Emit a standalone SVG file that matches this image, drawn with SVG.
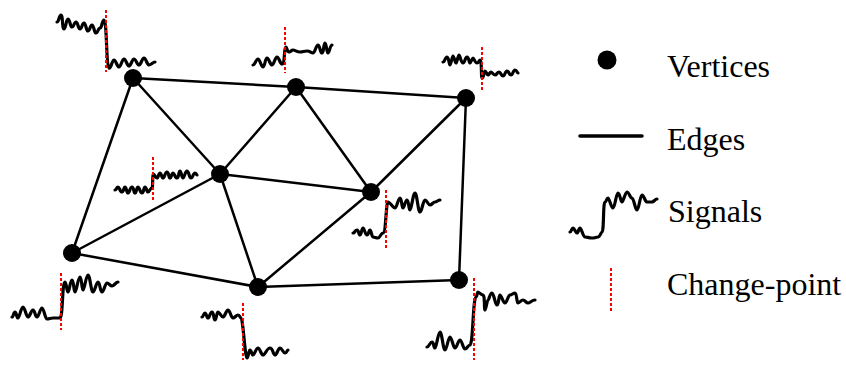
<svg xmlns="http://www.w3.org/2000/svg" width="846" height="365" viewBox="0 0 846 365">
<style>
.edge{stroke:#000;stroke-width:2.5;fill:none;stroke-linecap:round}
.v{fill:#000}
.sig{stroke:#000;stroke-width:3.2;fill:none;stroke-linecap:round;stroke-linejoin:round}
.cp{stroke:#ff0000;stroke-width:2;stroke-dasharray:3 2;fill:none}
.lbl{font-family:"Liberation Serif","Times New Roman",serif;font-size:32px;fill:#000}
</style>
<rect width="846" height="365" fill="#fff"/>
<g id="edges">
<line class="edge" x1="133" y1="78" x2="296" y2="87"/>
<line class="edge" x1="296" y1="87" x2="466" y2="98"/>
<line class="edge" x1="133" y1="78" x2="220" y2="174"/>
<line class="edge" x1="296" y1="87" x2="220" y2="174"/>
<line class="edge" x1="296" y1="87" x2="371" y2="192"/>
<line class="edge" x1="466" y1="98" x2="371" y2="192"/>
<line class="edge" x1="466" y1="98" x2="459" y2="280"/>
<line class="edge" x1="220" y1="174" x2="371" y2="192"/>
<line class="edge" x1="133" y1="78" x2="72" y2="253"/>
<line class="edge" x1="72" y1="253" x2="220" y2="174"/>
<line class="edge" x1="220" y1="174" x2="258" y2="287"/>
<line class="edge" x1="72" y1="253" x2="258" y2="287"/>
<line class="edge" x1="258" y1="287" x2="371" y2="192"/>
<line class="edge" x1="258" y1="287" x2="459" y2="280"/>
</g>
<g id="node-a">
<circle class="v" cx="133" cy="78" r="9"/>
<path class="sig" d="M57,22 C59,22 59,15 61,15 S62,29 64,29 S66,19 68,19 S70,27 72,27 S74,22 76,22 S78,29 80,29 S82,23 84,23 S86,31 88,31 S90,25 92,25 S94,33 96,33 S98,28 100,28 S102,20 104,20 C107,20 106,66 109,68 C111,69 112,60 114,60 S117,67 119,67 S122,59 124,59 S127,66 129,66 S132,59 134,59 S137,65 139,65 S142,58 144,58 S147,65 149,65 S153,62 155,62"/>
<line class="cp" x1="106" y1="10" x2="106" y2="72"/>
</g>
<g id="node-b">
<circle class="v" cx="296" cy="87" r="9"/>
<path class="sig" d="M253,65 C255,65 256,59 258,59 S261,67 263,67 S265,58 267,58 S270,65 272,65 S275,57 277,57 S280,64 282,64 C285,64 284,47 286,47 C287,47 287,52 289,52 S291,50 293,50 S297,52 300,52 S304,51 307,51 S311,53 313,53 S316,45 318,45 S320,53 322,53 S323.5,43 325,43 S326.5,53 328,53 S330,45 332,45"/>
<line class="cp" x1="285" y1="27" x2="285" y2="73"/>
</g>
<g id="node-c">
<circle class="v" cx="466" cy="98" r="9"/>
<path class="sig" d="M443,62 C445,62 445,57 447,57 S449,65 450,65 S452,56 453,56 S455,63 456,63 S458,55 459,55 S461,63 463,63 S465,57 467,57 S469,63 470,63 S472,58 473,58 S475,63 477,63 S479,60 480,60 C482,60 481,78 482,78 C484,78 484,71 485,71 S487,75 488,75 S490,72 491,72 S493,75 495,75 S497,72 499,72 S501,76 503,76 S505,71 507,71 S509,75 511,75 S513,70 515,70 S517,73 518,73"/>
<line class="cp" x1="482" y1="47" x2="482" y2="90"/>
</g>
<g id="node-d">
<circle class="v" cx="220" cy="174" r="9"/>
<path class="sig" d="M115,190 C116.5,190 116.5,187 118,187 S120,192 122,192 S123.5,187 125,187 S126.5,193 128,193 S130,187 132,187 S133.5,193 135,193 S136.5,187 138,187 S140,193 142,193 S143.5,187 145,187 S146.5,192 148,192 S150,188 152,188 C153,188 152.5,174 153,174 C155,174 155.5,178 157,178 S158.5,173 160,173 S161.5,178 163,178 S165,172 167,172 S168.5,178 170,178 S171.5,173 173,173 S175,178 177,178 S178.5,171 180,171 S181.5,178 183,178 S185,171 187,171 S189,178 191,178 S193,173 195,173 S196,175 197,175"/>
<line class="cp" x1="153" y1="157" x2="153" y2="202"/>
</g>
<g id="node-e">
<circle class="v" cx="371" cy="192" r="9"/>
<path class="sig" d="M353,233 C355,233 355,230 357,230 S358.5,235 360,235 S361.5,228 363,228 S365,235 367,235 S368.5,230 370,230 S371.5,237 373,237 S376,238 378,238 S381,233 383,233 C386,233 386,202 388,202 C390,202 393,208 395,208 S398,198 400,198 S401.5,208 403,208 S405,200 407,200 S408.5,210 410,210 S413,193 415,193 S418,212 420,212 S423,200 425,200 S428,205 430,205 S433,202 435,202 S438,200 440,200"/>
<line class="cp" x1="386" y1="190" x2="386" y2="250"/>
</g>
<g id="node-f">
<circle class="v" cx="72" cy="253" r="9"/>
<path class="sig" d="M12,317 C13.5,317 13.5,312 15,312 S16.5,318 18,318 S21,307 23,307 S26,317 28,317 S31,310 33,310 S35,317 37,317 S40,308 42,308 S45,319 47,319 S51,318 53,318 S58,318 60,318 C63,318 62,282 65,282 C66.5,282 66.5,292 68,292 S70,280 72,280 S73.5,292 75,292 S78,277 80,277 S81.5,290 83,290 S86,275 88,275 S91,292 93,292 S96,282 98,282 S100,292 102,292 S105,283 107,283 S110,286 112,286 S116,282 118,282"/>
<line class="cp" x1="61" y1="273" x2="61" y2="330"/>
</g>
<g id="node-g">
<circle class="v" cx="258" cy="287" r="9"/>
<path class="sig" d="M202,317 C203.5,317 203.5,313 205,313 S206.5,318 208,318 S210,312 212,312 S213.5,320 215,320 S216.5,312 218,312 S221,317 223,317 S226,310 228,310 S231,318 233,318 S236,315 238,315 S240,318 241,318 C243,318 245,358 247,358 C248.5,358 248.5,350 250,350 S251.5,355 253,355 S256,348 258,348 S261,355 263,355 S267,348 270,348 S273,355 275,355 S278,348 280,348 S283,353 285,353 S287,350 288,350"/>
<line class="cp" x1="243" y1="303" x2="243" y2="360"/>
</g>
<g id="node-h">
<circle class="v" cx="459" cy="280" r="9"/>
<path class="sig" d="M427,347 C429,347 430,342 432,342 S433.5,348 435,348 S438,332 440,332 S443,350 445,350 S448,337 450,337 S453,348 455,348 S458,340 460,340 S463,349 465,349 S468,345 470,345 C473,345 473,297 476,297 C477,297 477,292 478,292 S481,295 483,295 S484,310 485,310 S487,300 488,300 S490,293 492,293 S495,305 497,305 S498.5,295 500,295 S503,303 505,303 S508,295 510,295 S513,293 515,293 S516.5,303 518,303 S521,300 523,300 S526,303 528,303 S532,300 535,300"/>
<line class="cp" x1="474" y1="278" x2="474" y2="360"/>
</g>
<g id="legend">
<circle class="v" cx="607" cy="60" r="9.5"/>
<text class="lbl" x="667" y="77">Vertices</text>
<line x1="580" y1="136" x2="642" y2="136" stroke="#000" stroke-width="3.5" stroke-linecap="round"/>
<text class="lbl" x="667" y="150">Edges</text>
<path class="sig" d="M570,232 C571.5,232 571.5,228 573,228 S575.5,233 577,233 S578.5,228 580,228 S583,237 585,237 S589,238 592,238 S596,237 598,237 S601,232 602,232 C604,232 603,202 605,202 C606.5,202 606.5,198 608,198 S611,208 613,208 S616,193 618,193 S620.5,202 622,202 S625,192 627,192 S630,198 632,198 S635,210 637,210 S640,195 642,195 S645,202 647,202 S650,202 652,202 S655,199 657,199"/>
<text class="lbl" x="668" y="222">Signals</text>
<line class="cp" x1="611" y1="268" x2="611" y2="313"/>
<text class="lbl" x="667" y="295">Change-point</text>
</g>
</svg>
